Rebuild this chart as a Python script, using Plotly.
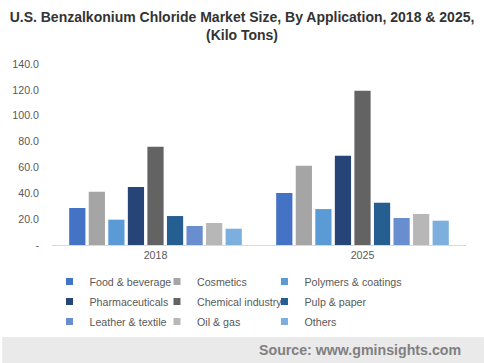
import plotly.graph_objects as go

years = ["2018", "2025"]
series = ["Food & beverage", "Cosmetics", "Polymers & coatings", "Pharmaceuticals",
          "Chemical industry", "Pulp & paper", "Leather & textile", "Oil & gas", "Others"]
values_2018 = [28.6, 41.2, 19.6, 44.9, 76.0, 22.4, 14.7, 17.0, 12.6]
values_2025 = [40.2, 61.3, 27.8, 69.0, 119.3, 32.7, 20.9, 24.0, 18.8]
colors = ["#4472C4", "#A5A5A5", "#5B9BD5", "#264478", "#636363",
          "#255E91", "#698ED0", "#B7B7B7", "#7CAFDD"]
tick_vals = [0, 20, 40, 60, 80, 100, 120, 140]
tick_text = ["-", "20.0", "40.0", "60.0", "80.0", "100.0", "120.0", "140.0"]

W, H = 484, 363
L, R, T, B = 50, 18, 64, 118
pw, ph = W - L - R, H - T - B
FONT = "Arial, Liberation Sans"
SMALL = 10.67

def px_x(x):
    return (x - L) / pw

def px_y(y):
    return (H - B - y) / ph

fig = go.Figure()
legend_ids = ["legend", "legend2", "legend3"]
for i, name in enumerate(series):
    fig.add_trace(go.Bar(
        x=years, y=[values_2018[i], values_2025[i]], name=name,
        marker=dict(color=colors[i], line=dict(width=0)),
        showlegend=False,
    ))
for i, name in enumerate(series):
    fig.add_trace(go.Scatter(
        x=[None], y=[None], mode="markers", name=name,
        marker=dict(symbol="square", size=7, color=colors[i]),
        legend=legend_ids[i % 3], legendgroup=name,
    ))

legend_common = dict(
    orientation="v", bgcolor="rgba(0,0,0,0)", borderwidth=0,
    font=dict(family=FONT, size=SMALL, color="#595959"),
    xanchor="left", yanchor="top", itemwidth=30, tracegroupgap=1,
)
col_text_x = [89.5, 197.5, 305.5]
legs = {}
for k, lid in enumerate(legend_ids):
    legs[lid] = dict(legend_common, x=px_x(col_text_x[k] - 42), y=px_y(267))

fig.update_layout(
    width=W, height=H,
    margin=dict(l=L, r=R, t=T, b=B),
    paper_bgcolor="white", plot_bgcolor="white",
    barmode="group", bargap=0.15, bargroupgap=0.17,
    font=dict(family=FONT, color="#595959"),
    title=dict(
        text="<b>U.S. Benzalkonium Chloride Market Size, By Application, 2018 & 2025,<br>(Kilo Tons)</b>",
        x=0.5, xref="container", xanchor="center",
        y=1 - 22 / H, yref="container", yanchor="top",
        font=dict(family=FONT, size=14, color="#333333"),
    ),
    xaxis=dict(
        showline=True, linecolor="#D9D9D9", linewidth=1, ticks="",
        tickfont=dict(size=SMALL, color="#595959"), showgrid=False,
    ),
    yaxis=dict(
        range=[0, 140], tickvals=tick_vals, ticktext=tick_text,
        showgrid=False, zeroline=False, showline=False, ticks="",
        tickfont=dict(size=SMALL, color="#595959"), ticklabelstandoff=12,
    ),
    shapes=[dict(
        type="rect", xref="paper", yref="paper",
        x0=px_x(0), x1=px_x(W), y0=px_y(H), y1=px_y(337),
        fillcolor="#EAEAEA", line=dict(width=0), layer="below",
    )],
    annotations=[dict(
        text="<b>Source: www.gminsights.com</b>", xref="paper", yref="paper",
        x=px_x(463), y=px_y(350), xanchor="right", yanchor="middle",
        showarrow=False, font=dict(family=FONT, size=14.2, color="#808080"),
    )],
    **legs,
)

fig.write_html(
    "out.html",
    config={"displayModeBar": False},
    post_script="document.body.style.margin='0';document.body.style.overflow='hidden';",
)
